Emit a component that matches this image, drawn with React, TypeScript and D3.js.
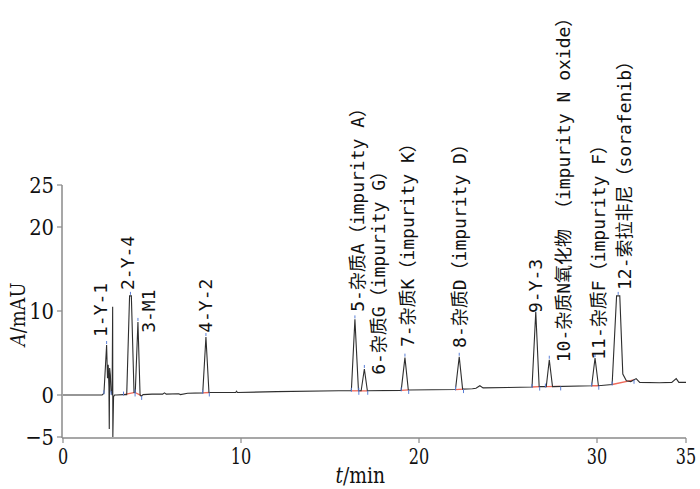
import React from "react";
import * as d3 from "d3";

// ---- data ----
const traceTime = [0, 2.2, 2.3, 2.45, 2.5, 2.54, 2.58, 2.6, 2.62, 2.66, 2.7, 2.76, 2.79, 2.8, 2.84, 2.9, 3.0, 3.4, 3.58, 3.74, 3.84, 3.99, 4.06, 4.21, 4.33, 4.4, 4.5, 5.0, 5.6, 5.7, 5.8, 6.5, 6.6, 7.0, 7.85, 8.03, 8.2, 9.7, 9.75, 9.8, 12.0, 15.5, 16.2, 16.4, 16.6, 16.75, 16.93, 17.1, 19.0, 19.21, 19.4, 22.05, 22.26, 22.45, 23.0, 23.2, 23.42, 23.6, 25.0, 26.35, 26.56, 26.75, 27.15, 27.32, 27.5, 29.7, 29.89, 30.08, 30.85, 31.1, 31.28, 31.45, 31.65, 31.9, 32.2, 32.4, 33.5, 34.2, 34.45, 34.6, 35.0];
const traceSignal = [0, 0, 0.2, 5.95, 2.0, 3.6, 1.0, -4.05, 3.2, 2.4, 0.5, 0, 10.5, -5.0, -0.2, 0, 0, 0.05, 0.05, 11.8, 11.8, 0.3, 0.3, 8.7, 0, -0.15, 0.05, 0.1, 0.1, 0.25, 0.1, 0.15, 0.05, 0.2, 0.25, 6.9, 0.3, 0.3, 0.45, 0.3, 0.4, 0.5, 0.5, 9.0, 0.5, 0.5, 3.1, 0.5, 0.55, 4.45, 0.6, 0.65, 4.55, 0.7, 0.75, 0.8, 1.1, 0.85, 0.9, 0.95, 9.9, 1.0, 1.0, 4.2, 1.0, 1.1, 4.4, 1.1, 1.25, 11.8, 11.8, 2.5, 1.7, 1.6, 1.95, 1.5, 1.45, 1.5, 1.95, 1.5, 1.5];

const peakLabels = [
  "1-Y-1",
  "2-Y-4",
  "3-M1",
  "4-Y-2",
  "5-杂质A（impurity A）",
  "6-杂质G（impurity G）",
  "7-杂质K（impurity K）",
  "8-杂质D（impurity D）",
  "9-Y-3",
  "10-杂质N氧化物 （impurity N oxide）",
  "11-杂质F（impurity F）",
  "12-索拉非尼（sorafenib）",
];
const peakTimes = [2.45, 3.79, 4.21, 8.03, 16.4, 16.93, 19.21, 22.26, 26.56, 27.32, 29.89, 31.19];
const peakHeights = [5.95, 11.8, 8.7, 6.9, 9.0, 3.1, 4.45, 4.55, 9.9, 4.2, 4.4, 11.8];
const peakStart = [2.3, 3.4, 4.05, 7.85, 16.2, 16.62, 19.0, 22.05, 26.35, 27.1, 29.7, 30.85];
const peakEnd = [2.7, 4.05, 4.42, 8.22, 16.62, 17.12, 19.42, 22.5, 26.78, 27.96, 30.1, 32.08];
const labelTime = [2.08, 3.65, 4.78, 7.98, 16.52, 17.75, 19.38, 22.3, 26.52, 28.09, 30.06, 31.57];
const labelLevel = [6.9, 12.5, 7.4, 7.4, 9.9, 2.4, 5.7, 5.6, 9.76, 3.9, 4.2, 12.5];

const xTicks = [0, 10, 20, 30, 35];
const yTicks = [-5, 0, 10, 20, 25];

// ---- layout ----
const W = 700, H = 489;
const X0 = 63, X1 = 686, YTOP = 185, YBOT = 437;
const SERIF = "DejaVu Serif, serif";
const MONO = "DejaVu Sans Mono, Noto Sans CJK SC, monospace";

export default function App() {
  const x = d3.scaleLinear().domain([0, 35]).range([X0, X1]);
  const y = d3.scaleLinear().domain([-5, 25]).range([YBOT, YTOP]);
  const pts: [number, number][] = traceTime.map((t, i) => [t, traceSignal[i]]);
  const line = d3.line<[number, number]>().x((d) => x(d[0])).y((d) => y(d[1]));
  const interp = (t: number) => {
    const i = d3.bisectRight(traceTime, t);
    if (i <= 0) return traceSignal[0];
    if (i >= traceTime.length) return traceSignal[traceSignal.length - 1];
    const t0 = traceTime[i - 1], t1 = traceTime[i];
    const f = (t - t0) / (t1 - t0);
    return traceSignal[i - 1] + f * (traceSignal[i] - traceSignal[i - 1]);
  };
  const axisColor = "#8a8a8a";
  const blue = "#5a7fd6";
  const red = "#f06a5a";
  const axisY = YBOT + 1;
  return (
    <svg width={W} height={H} style={{ position: "absolute", left: 0, top: 0, background: "#fff" }}>
      {peakStart.map((s, i) =>
        i === 0 ? null : (
          <line key={"r" + i} x1={x(s)} y1={y(interp(s))} x2={x(peakEnd[i])} y2={y(interp(peakEnd[i]))} stroke={red} strokeWidth={1.3} />
        )
      )}
      <path d={line(pts) || ""} fill="none" stroke="#2e2e2e" strokeWidth={1.1} />
      {peakTimes.map((t, i) => (
        <g key={"b" + i}>
          <line x1={x(t)} x2={x(t)} y1={y(peakHeights[i]) - 4} y2={y(peakHeights[i]) - 1} stroke={blue} strokeWidth={1} />
          <line x1={x(peakStart[i])} x2={x(peakStart[i])} y1={y(interp(peakStart[i])) - 3} y2={y(interp(peakStart[i])) + 1} stroke={blue} strokeWidth={1} />
          <line x1={x(peakEnd[i])} x2={x(peakEnd[i])} y1={y(interp(peakEnd[i]))} y2={y(interp(peakEnd[i])) + 4} stroke={blue} strokeWidth={1} />
        </g>
      ))}
      <line x1={X0 - 1} x2={X0 - 1} y1={YTOP} y2={axisY} stroke={axisColor} strokeWidth={1.5} />
      <line x1={X0 - 1} x2={X1} y1={axisY} y2={axisY} stroke={axisColor} strokeWidth={1.5} />
      {yTicks.map((v) => (
        <g key={"y" + v}>
          <line x1={X0 - 6} x2={X0 - 1} y1={y(v)} y2={y(v)} stroke={axisColor} strokeWidth={1.2} />
          <text transform={`translate(${X0 - 9},${y(v)}) scale(0.85,1)`} textAnchor="end" dominantBaseline="central" style={{ fontFamily: SERIF, fontSize: 23 }} fill="#111">
            {d3.format("")(v)}
          </text>
        </g>
      ))}
      {xTicks.map((v) => (
        <g key={"x" + v}>
          <line x1={x(v)} x2={x(v)} y1={axisY} y2={axisY + 5} stroke={axisColor} strokeWidth={1.2} />
          <text transform={`translate(${x(v)},${axisY + 26}) scale(0.7,1)`} textAnchor="middle" style={{ fontFamily: SERIF, fontSize: 23 }} fill="#111">
            {String(v)}
          </text>
        </g>
      ))}
      <text transform={`translate(${x(16.7)},${H - 6}) scale(0.85,1)`} textAnchor="middle" style={{ fontFamily: SERIF, fontSize: 22 }} fill="#111">
        <tspan fontStyle="italic">t</tspan>
        <tspan>/min</tspan>
      </text>
      <text transform={`translate(17,${y(9.6)}) rotate(-90) scale(0.85,1)`} textAnchor="middle" dominantBaseline="central" style={{ fontFamily: SERIF, fontSize: 21 }} fill="#111">
        <tspan fontStyle="italic">A</tspan>
        <tspan>/mAU</tspan>
      </text>
      {peakLabels.map((s, i) => (
        <text
          key={"l" + i}
          transform={`translate(${x(labelTime[i])},${y(labelLevel[i])}) rotate(-90)`}
          dominantBaseline="central"
          style={{ fontFamily: MONO, fontSize: 18 }}
          fill="#111"
        >
          {s}
        </text>
      ))}
    </svg>
  );
}
